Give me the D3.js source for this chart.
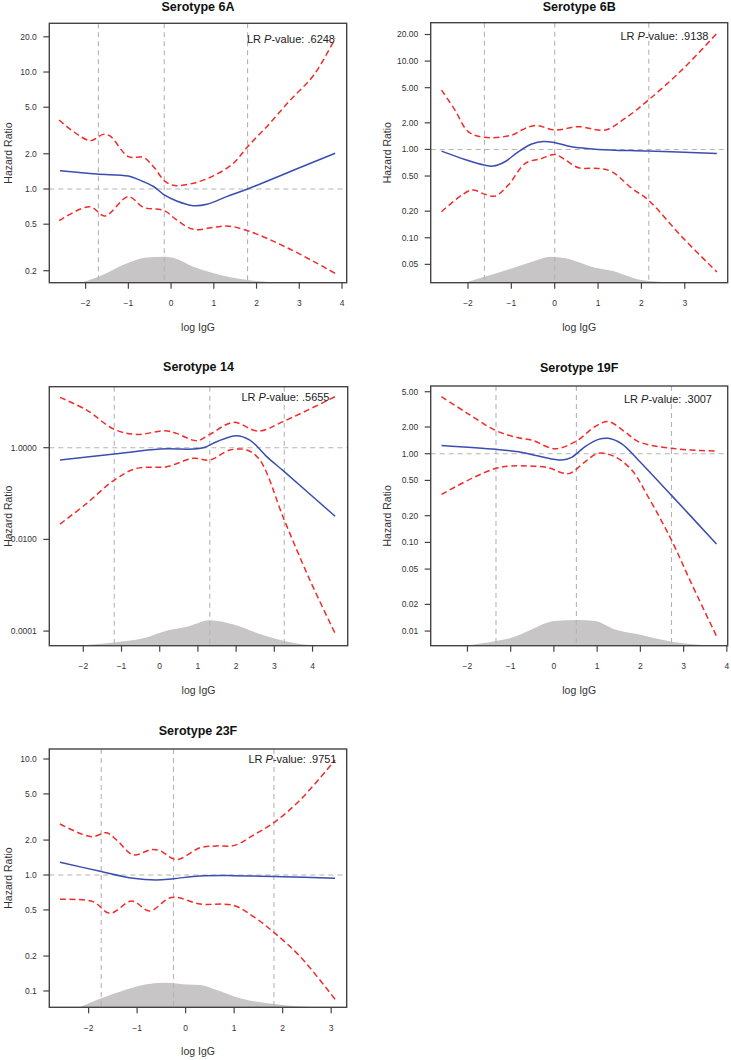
<!DOCTYPE html>
<html>
<head>
<meta charset="utf-8">
<script src="https://cdn.jsdelivr.net/npm/d3@7"></script>
<style>
  html, body { margin: 0; padding: 0; background: #fff; }
  svg { display: block; font-family: "Liberation Sans", Arial, sans-serif; }
</style>
</head>
<body>
<svg id="chart" width="731" height="1060"></svg>
<script>
// ---------------- DATA ----------------
// Serotype 6A
const fit6A = [[-2.60,1.43],[-1.74,1.34],[-1.0,1.29],[-0.73,1.19],[-0.41,1.05],[-0.16,0.89],[0.13,0.79],[0.52,0.72],[0.84,0.74],[1.30,0.86],[1.79,1.0],[2.79,1.41],[3.84,2.02]];
const hi6A = [[-2.62,3.89],[-1.90,2.59],[-1.59,2.93],[-1.43,2.84],[-1.0,1.89],[-0.65,1.86],[-0.41,1.55],[-0.14,1.16],[0.09,1.07],[0.52,1.12],[1.0,1.30],[1.46,1.66],[1.79,2.30],[2.24,3.41],[2.79,5.76],[3.34,9.42],[3.84,19.4]];
const lo6A = [[-2.62,0.536],[-1.90,0.706],[-1.55,0.588],[-1.0,0.86],[-0.65,0.697],[-0.16,0.653],[0.13,0.543],[0.52,0.452],[1.0,0.47],[1.30,0.483],[1.79,0.44],[2.79,0.305],[3.84,0.19]];
const dens6A = [[-2.10,0],[-1.66,0.077],[-1.04,0.223],[-0.57,0.292],[-0.16,0.300],[0.05,0.288],[0.52,0.185],[1.0,0.108],[1.79,0.031],[2.48,0]];
const knots6A = [-1.70,-0.16,1.79];
const xTicks6A = [-2,-1,0,1,2,3,4];
const yTicks6A = [0.2,0.5,1,2,5,10,20];

// Serotype 6B
const fit6B = [[-2.61,0.957],[-2.07,0.77],[-1.62,0.665],[-1.42,0.648],[-1.15,0.725],[-0.84,0.94],[-0.53,1.15],[-0.26,1.23],[0.01,1.19],[0.39,1.07],[1.0,1.0],[2.16,0.957],[3.74,0.90]];
const hi6B = [[-2.61,4.7],[-2.30,2.79],[-1.99,1.58],[-1.62,1.37],[-0.99,1.45],[-0.76,1.66],[-0.45,1.87],[0.01,1.66],[0.55,1.81],[1.16,1.66],[1.62,2.24],[2.16,3.62],[2.93,7.9],[3.74,20.6]];
const lo6B = [[-2.61,0.197],[-1.92,0.347],[-1.62,0.312],[-1.38,0.296],[-1.07,0.395],[-0.68,0.695],[-0.30,0.79],[0.01,0.877],[0.25,0.757],[0.55,0.62],[1.0,0.61],[1.32,0.559],[1.78,0.362],[2.16,0.267],[2.93,0.103],[3.74,0.041]];
const dens6B = [[-2.07,0],[-1.62,0.069],[-0.99,0.165],[-0.45,0.254],[-0.11,0.300],[0.25,0.281],[0.93,0.173],[1.32,0.138],[1.93,0.038],[2.39,0.012],[3.0,0]];
const knots6B = [-1.62,0.0,2.17];
const xTicks6B = [-2,-1,0,1,2,3];
const yTicks6B = [0.05,0.1,0.2,0.5,1,2,5,10,20];

// Serotype 14
const fit14 = [[-2.61,0.538],[-1.19,0.728],[0.01,0.935],[0.88,0.935],[1.19,1.02],[1.49,1.35],[2.0,1.83],[2.36,1.47],[2.80,0.64],[3.26,0.30],[4.59,0.032]];
const hi14 = [[-2.61,12.5],[-1.91,6.6],[-1.19,2.51],[-0.60,1.95],[0.14,2.35],[0.44,2.05],[0.97,1.42],[1.31,1.95],[1.93,3.57],[2.58,2.31],[3.26,3.82],[4.59,13.0]];
const lo14 = [[-2.61,0.0216],[-1.91,0.061],[-1.19,0.197],[-0.60,0.354],[0.18,0.385],[0.88,0.585],[1.31,0.538],[1.84,0.889],[2.28,0.89],[2.62,0.54],[3.26,0.0264],[3.93,0.0013],[4.59,0.000089]];
const dens14 = [[-2.3,0],[-1.19,0.038],[-0.43,0.085],[0.18,0.173],[0.71,0.219],[1.31,0.296],[1.93,0.246],[2.62,0.135],[3.26,0.054],[3.84,0.012],[4.3,0]];
const knots14 = [-1.19,1.31,3.26];
const xTicks14 = [-2,-1,0,1,2,3,4];
const yTicks14 = [0.0001,0.01,1];

// Serotype 19F
const fit19F = [[-2.60,1.24],[-1.34,1.12],[-0.82,1.05],[-0.29,0.925],[0.18,0.849],[0.41,0.91],[0.72,1.2],[1.03,1.45],[1.26,1.49],[1.57,1.29],[1.95,0.85],[2.72,0.339],[3.76,0.096]];
const hi19F = [[-2.60,4.39],[-2.06,2.98],[-1.34,1.82],[-0.82,1.51],[-0.52,1.43],[0.02,1.14],[0.52,1.39],[0.95,2.02],[1.26,2.30],[1.64,1.77],[1.95,1.37],[2.72,1.15],[3.76,1.07]];
const lo19F = [[-2.60,0.348],[-1.90,0.527],[-1.34,0.684],[-0.98,0.726],[-0.13,0.695],[0.18,0.61],[0.37,0.60],[0.72,0.81],[1.03,1.01],[1.41,0.925],[1.80,0.654],[2.18,0.327],[2.72,0.106],[3.18,0.0345],[3.76,0.0088]];
const dens19F = [[-2.06,0],[-1.34,0.054],[-0.98,0.092],[-0.52,0.188],[0,0.285],[0.56,0.296],[0.95,0.285],[1.41,0.188],[1.95,0.131],[2.72,0.046],[3.34,0.012],[3.8,0]];
const knots19F = [-1.34,0.52,2.72];
const xTicks19F = [-2,-1,0,1,2,3,4];
const yTicks19F = [0.01,0.02,0.05,0.1,0.2,0.5,1,2,5];

// Serotype 23F
const fit23F = [[-2.59,1.29],[-1.74,1.07],[-1.08,0.936],[-0.60,0.906],[-0.25,0.93],[0.30,0.98],[0.98,0.987],[2.01,0.968],[3.08,0.936]];
const hi23F = [[-2.59,2.75],[-1.94,2.14],[-1.63,2.31],[-1.42,2.0],[-1.08,1.49],[-0.70,1.66],[-0.53,1.62],[-0.19,1.36],[0.30,1.72],[0.64,1.78],[1.01,1.80],[1.40,2.21],[1.82,2.83],[2.36,4.43],[3.08,9.8]];
const lo23F = [[-2.59,0.617],[-1.91,0.589],[-1.56,0.467],[-1.11,0.597],[-0.74,0.49],[-0.29,0.641],[0.30,0.562],[0.98,0.548],[1.40,0.437],[1.82,0.32],[2.36,0.198],[3.08,0.0848]];
const dens23F = [[-2.18,0],[-1.74,0.104],[-1.22,0.208],[-0.80,0.269],[-0.39,0.285],[0,0.265],[0.30,0.258],[0.64,0.2],[1.12,0.104],[1.82,0.038],[2.36,0.008],[2.8,0]];
const knots23F = [-1.74,-0.25,1.82];
const xTicks23F = [-2,-1,0,1,2,3];
const yTicks23F = [0.1,0.2,0.5,1,2,5,10];

const titles = ["Serotype 6A","Serotype 6B","Serotype 14","Serotype 19F","Serotype 23F"];
const pValues = [".6248",".9138",".5655",".3007",".9751"];

// ---------------- LAYOUT ----------------
const panels = [
  {title:titles[0], p:pValues[0], fit:fit6A, hi:hi6A, lo:lo6A, dens:dens6A, knots:knots6A, xTicks:xTicks6A, yTicks:yTicks6A, fmt:".1f",
   box:[49.3,23.3,346.7,282.7], xDom:[-2.85,4.11], yDom:[0.158,26.1], lr:[335,42.5], yTitleX:8, titleY:10.5},
  {title:titles[1], p:pValues[1], fit:fit6B, hi:hi6B, lo:lo6B, dens:dens6B, knots:knots6B, xTicks:xTicks6B, yTicks:yTicks6B, fmt:".2f",
   box:[430.7,22.7,727.7,282.7], xDom:[-2.86,3.99], yDom:[0.031,27.2], lr:[708.5,40], yTitleX:387, titleY:10.5},
  {title:titles[2], p:pValues[2], fit:fit14, hi:hi14, lo:lo14, dens:dens14, knots:knots14, xTicks:xTicks14, yTicks:yTicks14, fmt:".4f",
   box:[49.3,386.7,347.7,645.7], xDom:[-2.89,4.92], yDom:[4.8e-5,21.4], lr:[329.5,400.5], yTitleX:8, titleY:371},
  {title:titles[3], p:pValues[3], fit:fit19F, hi:hi19F, lo:lo19F, dens:dens19F, knots:knots19F, xTicks:xTicks19F, yTicks:yTicks19F, fmt:".2f",
   box:[430.7,386,727.7,645.7], xDom:[-2.85,4.02], yDom:[0.00684,5.8], lr:[712,403], yTitleX:387, titleY:371.5},
  {title:titles[4], p:pValues[4], fit:fit23F, hi:hi23F, lo:lo23F, dens:dens23F, knots:knots23F, xTicks:xTicks23F, yTicks:yTicks23F, fmt:".1f",
   box:[49.3,749,346.7,1007.3], xDom:[-2.81,3.32], yDom:[0.0723,12.2], lr:[336.5,763], yTitleX:8, titleY:734.5}
];

const svg = d3.select("#chart");
svg.append("rect").attr("width",731).attr("height",1060).attr("fill","#fff");

panels.forEach((pn, i) => {
  const [L,T,R,B] = pn.box;
  const x = d3.scaleLinear().domain(pn.xDom).range([L,R]);
  const y = d3.scaleLog().domain(pn.yDom).range([B,T]);
  const yd = d3.scaleLinear().domain([0,3]).range([B,T]);
  const g = svg.append("g");

  const clipId = "clip"+i;
  svg.append("clipPath").attr("id",clipId).append("rect")
    .attr("x",L).attr("y",T).attr("width",R-L).attr("height",B-T);
  const plot = g.append("g").attr("clip-path",`url(#${clipId})`);

  // density
  plot.append("path").datum(pn.dens)
    .attr("d", d3.area().x(d=>x(d[0])).y0(B).y1(d=>yd(d[1])).curve(d3.curveMonotoneX))
    .attr("fill","#c7c5c5");

  // reference lines
  plot.selectAll("line.knot").data(pn.knots).enter().append("line")
    .attr("x1",d=>x(d)).attr("x2",d=>x(d)).attr("y1",T).attr("y2",B)
    .attr("stroke","#b4b4b4").attr("stroke-width",1.1).attr("stroke-dasharray","5,4");
  plot.append("line").attr("x1",L).attr("x2",R).attr("y1",y(1)).attr("y2",y(1))
    .attr("stroke","#b4b4b4").attr("stroke-width",1.1).attr("stroke-dasharray","5,4");

  const line = d3.line().x(d=>x(d[0])).y(d=>y(d[1])).curve(d3.curveCatmullRom.alpha(0.5));
  [pn.hi, pn.lo].forEach(arr => {
    plot.append("path").datum(arr).attr("d",line)
      .attr("fill","none").attr("stroke","#f42a2a").attr("stroke-width",1.5).attr("stroke-dasharray","6,3.5");
  });
  plot.append("path").datum(pn.fit).attr("d",line)
    .attr("fill","none").attr("stroke","#3a4db0").attr("stroke-width",1.5);

  // box
  g.append("rect").attr("x",L).attr("y",T).attr("width",R-L).attr("height",B-T)
    .attr("fill","none").attr("stroke","#444").attr("stroke-width",1.4);

  // y axis
  const fmt = d3.format(pn.fmt);
  pn.yTicks.forEach(t => {
    g.append("line").attr("x1",L-6).attr("x2",L).attr("y1",y(t)).attr("y2",y(t))
      .attr("stroke","#444").attr("stroke-width",1.2);
    g.append("text").attr("x",L-12.5).attr("y",y(t)).attr("dy","0.35em")
      .attr("text-anchor","end").attr("font-size",8.5).attr("fill","#333").text(fmt(t));
  });
  // x axis
  pn.xTicks.forEach(t => {
    g.append("line").attr("x1",x(t)).attr("x2",x(t)).attr("y1",B).attr("y2",B+6)
      .attr("stroke","#444").attr("stroke-width",1.2);
    g.append("text").attr("x",x(t)).attr("y",B+23.6)
      .attr("text-anchor","middle").attr("font-size",8.5).attr("fill","#333").text(d3.format("d")(t));
  });

  // titles
  g.append("text").attr("x",(L+R)/2).attr("y",pn.titleY).attr("text-anchor","middle")
    .attr("font-size",12.5).attr("font-weight","bold").attr("fill","#111").text(pn.title);
  g.append("text").attr("x",(L+R)/2).attr("y",B+48).attr("text-anchor","middle")
    .attr("font-size",10.5).attr("fill","#333").text("log IgG");
  g.append("text").attr("transform",`translate(${pn.yTitleX},${(T+B)/2}) rotate(-90)`)
    .attr("text-anchor","middle").attr("dy","0.35em")
    .attr("font-size",10.5).attr("fill","#333").text("Hazard Ratio");

  // LR p-value
  const lr = g.append("text").attr("x",pn.lr[0]).attr("y",pn.lr[1]).attr("text-anchor","end")
    .attr("font-size",11).attr("fill","#222");
  lr.append("tspan").text("LR ");
  lr.append("tspan").attr("font-style","italic").text("P");
  lr.append("tspan").text("-value: " + pn.p);
});
</script>
</body>
</html>
